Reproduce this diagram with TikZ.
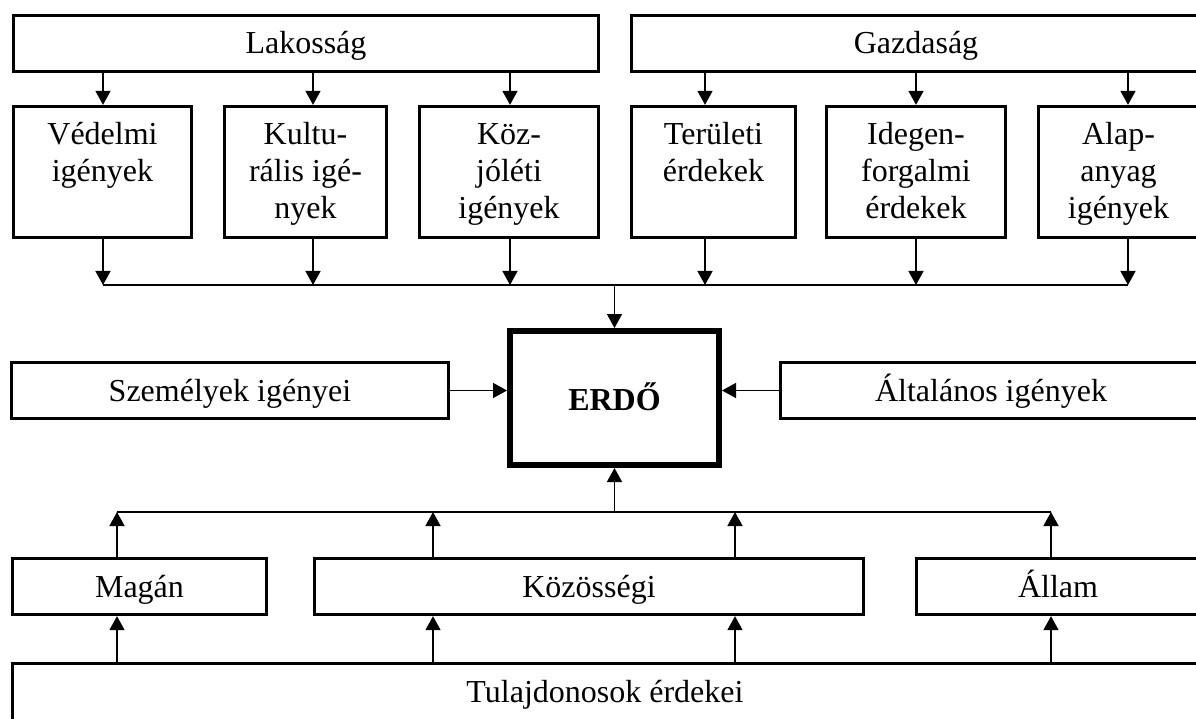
\documentclass[tikz,border=0pt]{standalone}
\usepackage{fontspec}
\setmainfont{Liberation Serif}
\usetikzlibrary{arrows.meta,calc}
% multi-line label hung from the top edge of a tall box
\newcommand{\toptext}[2]{\parbox[c][131pt][t]{#1}{\centering\rule{0pt}{38.5pt}#2}}
\begin{document}
\begin{tikzpicture}[x=1pt,y=-1pt,
  every node/.style={font=\fontsize{32}{36.7}\selectfont},
  box/.style={draw, rectangle, line width=3.3pt, inner sep=0pt,
    text height=27pt, text depth=6pt, minimum height=56pt},
  tallbox/.style={draw, rectangle, line width=3.3pt, inner sep=0pt, minimum height=131pt},
  centrebox/.style={draw, rectangle, line width=6pt, inner sep=0pt,
    text height=29pt, text depth=5pt, minimum width=209pt, minimum height=134pt,
    font=\fontsize{32}{36.7}\selectfont\bfseries},
  arr/.style={line width=1.5pt, -{Triangle[width=15pt,length=14pt]}},
  bus/.style={line width=1.5pt}]

\path[use as bounding box, clip] (0,0) rectangle (1196,719);
\fill[white] (0,0) rectangle (1196,719);

% top groups
\node[box, minimum width=585pt] (lak) at (306,43.5) {Lakosság};
\node[box, minimum width=569pt] (gaz) at (916,43.5) {Gazdaság};

% needs and interests
\node[tallbox, minimum width=178pt] (ved) at (102.5,172) {\toptext{178pt}{Védelmi\\igények}};
\node[tallbox, minimum width=162pt] (kul) at (305.5,172) {\toptext{162pt}{Kultu-\\rális igé-\\nyek}};
\node[tallbox, minimum width=179pt] (koz) at (509,172) {\toptext{179pt}{Köz-\\jóléti\\igények}};
\node[tallbox, minimum width=164pt] (ter) at (713.5,172) {\toptext{164pt}{Területi\\érdekek}};
\node[tallbox, minimum width=179pt] (ide) at (916,172) {\toptext{179pt}{Idegen-\\forgalmi\\érdekek}};
\node[tallbox, minimum width=160pt] (ala) at (1118.5,172) {\toptext{160pt}{Alap-\\anyag\\igények}};

% middle row
\node[box, minimum width=437pt] (sze) at (230,390.5) {Személyek igényei};
\node[centrebox] (erdo) at (614.5,398) {ERDŐ};
\node[box, minimum width=421pt] (alt) at (991,390.5) {Általános igények};

% owners
\node[box, minimum width=254pt] (mag) at (139.5,586.5) {Magán};
\node[box, minimum width=549pt] (kzs) at (589,586.5) {Közösségi};
\node[box, minimum width=283pt] (all) at (1058,586.5) {Állam};
\node[box, minimum width=1185pt, minimum height=57pt] (tul) at (605,692) {Tulajdonosok érdekei};

% upper collecting line
\coordinate (t1) at (103,285);
\coordinate (t2) at (313,285);
\coordinate (t3) at (510,285);
\coordinate (t4) at (705,285);
\coordinate (t5) at (916,285);
\coordinate (t6) at (1128,285);

\draw[arr] (lak.south -| t1) -- (ved.north -| t1);
\draw[arr] (lak.south -| t2) -- (kul.north -| t2);
\draw[arr] (lak.south -| t3) -- (koz.north -| t3);
\draw[arr] (gaz.south -| t4) -- (ter.north -| t4);
\draw[arr] (gaz.south -| t5) -- (ide.north -| t5);
\draw[arr] (gaz.south -| t6) -- (ala.north -| t6);

\draw[arr] (ved.south -| t1) -- (t1);
\draw[arr] (kul.south -| t2) -- (t2);
\draw[arr] (koz.south -| t3) -- (t3);
\draw[arr] (ter.south -| t4) -- (t4);
\draw[arr] (ide.south -| t5) -- (t5);
\draw[arr] (ala.south -| t6) -- (t6);
\draw[bus] (t1) -- (t6);
\draw[arr] (erdo.north |- t1) -- (erdo.north);

% side inputs
\draw[arr] (sze.east) -- (erdo.west |- sze.east);
\draw[arr] (alt.west) -- (erdo.east |- alt.west);

% lower collecting line
\coordinate (b1) at (117,512);
\coordinate (b2) at (433,512);
\coordinate (b3) at (735,512);
\coordinate (b4) at (1051,512);

\draw[arr] (tul.north -| b1) -- (mag.south -| b1);
\draw[arr] (tul.north -| b2) -- (kzs.south -| b2);
\draw[arr] (tul.north -| b3) -- (kzs.south -| b3);
\draw[arr] (tul.north -| b4) -- (all.south -| b4);

\draw[arr] (mag.north -| b1) -- (b1);
\draw[arr] (kzs.north -| b2) -- (b2);
\draw[arr] (kzs.north -| b3) -- (b3);
\draw[arr] (all.north -| b4) -- (b4);
\draw[bus] (b1) -- (b4);
\draw[arr] (erdo.south |- b1) -- (erdo.south);
\end{tikzpicture}
\end{document}
